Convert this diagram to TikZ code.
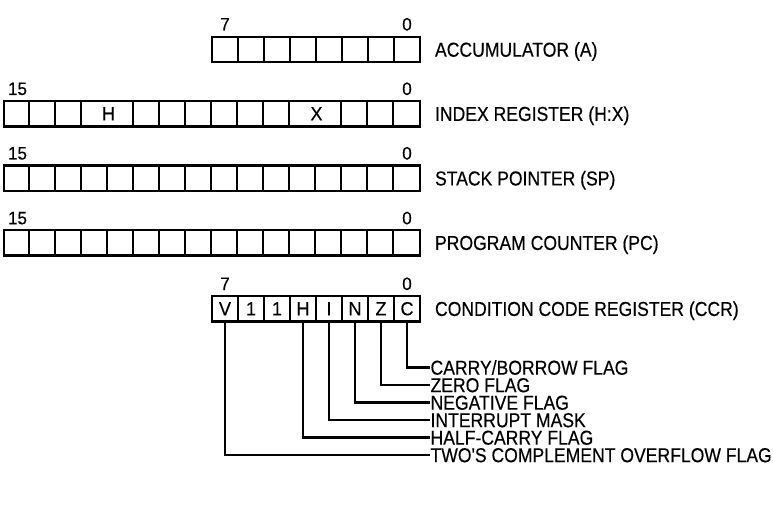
\documentclass[tikz,border=0pt]{standalone}
\usepackage{fontspec}
\setmainfont{Liberation Sans}
\newfontfamily\labfont{Liberation Sans}[FakeStretch=0.87,FakeBold=0.4]
\newfontfamily\numfont{Liberation Sans}[FakeStretch=0.95,FakeBold=0.3]
\begin{document}
\begin{tikzpicture}[x=1pt,y=-1pt,line width=2.1pt,
  cell/.style={draw,minimum width=26pt,minimum height=25.5pt,inner sep=0pt,font=\numfont\fontsize{19}{19}\selectfont},
  wide/.style={draw,minimum width=416pt,minimum height=25.5pt,inner sep=0pt},
  bitno/.style={anchor=base,inner sep=0pt,font=\numfont\fontsize{18}{18}\selectfont},
  lab/.style={anchor=west,inner sep=0pt,text height=14.4pt,text depth=0pt,font=\labfont\fontsize{20.2}{20}\selectfont},
  inlab/.style={inner sep=0pt,font=\numfont\fontsize{19}{19}\selectfont}]
\useasboundingbox (0,0) rectangle (773,505);
% Accumulator
\foreach \i in {0,...,7} \node[cell] (a\i) at ({407-26*\i},49.5) {};
\node[bitno] (a7n) at (225,30.5) {7};
\node[bitno] (a0n) at (407,30.5) {0};
\node[lab] (la) at (434,49.5) {ACCUMULATOR (A)};
% Index register
\node[wide] (ix) at (212,113.75) {};
\foreach \k in {1,2,3,5,6,7,8,9,10,11,13,14,15}
  \draw ([xshift=\k*26pt]ix.north west) -- ([xshift=\k*26pt]ix.south west);
\foreach \k in {4,12}{
  \draw ([xshift=\k*26pt]ix.north west) -- ++(0,2.5);
  \draw ([xshift=\k*26pt]ix.south west) -- ++(0,-2.5);}
\node[inlab] (ixh) at (108.5,113.75) {H};
\node[inlab] (ixx) at (316.5,113.75) {X};
\node[bitno] (ix15) at (17.5,95) {15};
\node[bitno] (ix0) at (407,95) {0};
\node[lab] (lix) at (434,113.75) {INDEX REGISTER (H:X)};
% Stack pointer
\node[wide] (sp) at (212,178.25) {};
\foreach \k in {1,...,15}
  \draw ([xshift=\k*26pt]sp.north west) -- ([xshift=\k*26pt]sp.south west);
\node[bitno] (sp15) at (17.5,159.5) {15};
\node[bitno] (sp0) at (407,159.5) {0};
\node[lab] (lsp) at (434,178.25) {STACK POINTER (SP)};
% Program counter
\node[wide] (pc) at (212,242.75) {};
\foreach \k in {1,...,15}
  \draw ([xshift=\k*26pt]pc.north west) -- ([xshift=\k*26pt]pc.south west);
\node[bitno] (pc15) at (17.5,224.3) {15};
\node[bitno] (pc0) at (407,224.3) {0};
\node[lab] (lpc) at (434,242.75) {PROGRAM COUNTER (PC)};
% Condition code register
\foreach \t [count=\n from 0] in {C,Z,N,I,H,1,1,V}
  \node[cell] (c\n) at ({407-26*\n},308.75) {\t};
\node[bitno] (c7n) at (225,290) {7};
\node[bitno] (c0n) at (407,290) {0};
\node[lab] (lccr) at (434,308.75) {CONDITION CODE REGISTER (CCR)};
% Flags
\node[lab] (f0) at (429.5,367.5) {CARRY/BORROW FLAG};
\node[lab] (f1) at (429.5,385) {ZERO FLAG};
\node[lab] (f2) at (429.5,402.5) {NEGATIVE FLAG};
\node[lab] (f3) at (429.5,420) {INTERRUPT MASK};
\node[lab] (f4) at (429.5,437.5) {HALF-CARRY FLAG};
\node[lab] (f7) at (429.5,455) {TWO'S COMPLEMENT OVERFLOW FLAG};
\foreach \b in {0,1,2,3,4,7}
  \draw (c\b.south) |- (f\b.west);
\end{tikzpicture}
\end{document}
